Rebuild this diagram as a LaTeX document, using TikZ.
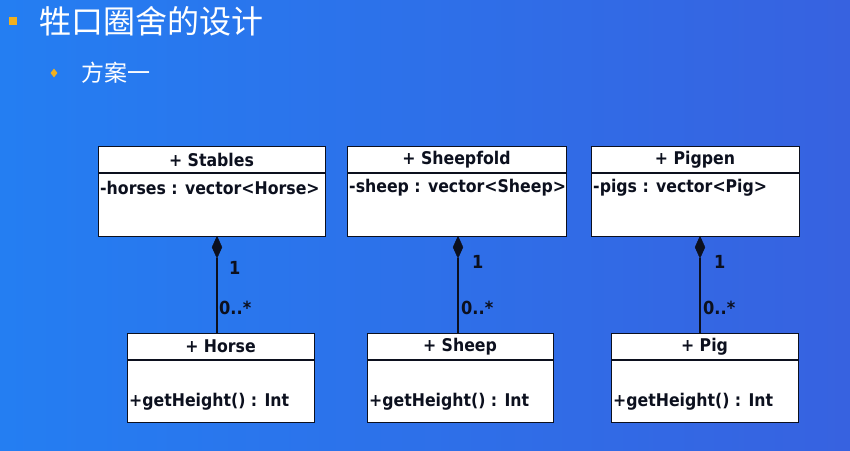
\documentclass[tikz,border=0pt]{standalone}
\usepackage{fontspec}
\setmainfont{DejaVu Sans}
\newfontfamily\umlfont{DejaVu Sans Condensed Bold}
\newfontfamily\cjk{Noto Sans CJK SC}
\usetikzlibrary{shapes.geometric}
\definecolor{bgL}{RGB}{36,126,242}
\definecolor{bgR}{RGB}{55,98,224}
\definecolor{bullet}{RGB}{240,176,32}
\definecolor{ink}{RGB}{12,16,30}
\begin{document}
\begin{tikzpicture}[x=1pt,y=-1pt,
  clsbox/.style={draw=ink,line width=1.3pt,fill=white,rectangle,inner sep=0pt,anchor=north west},
  clsname/.style={font=\umlfont\fontsize{17.5}{19}\selectfont,text=ink,inner sep=0pt},
  member/.style={font=\umlfont\fontsize{17.5}{19}\selectfont,text=ink,inner sep=0pt,anchor=west},
  mult/.style={font=\umlfont\fontsize{18}{20}\selectfont,text=ink,inner sep=0pt,anchor=west},
  comp/.style={diamond,fill=ink,draw=ink,inner sep=0pt,minimum width=10pt,minimum height=22pt,anchor=north},
  link/.style={draw=ink,line width=1.1pt},
  sep/.style={draw=ink,line width=1.2pt}]
\useasboundingbox (0,0) rectangle (850,450);
\shade[left color=bgL,right color=bgR] (0,0) rectangle (850,450);
% titles
\node[fill=bullet,minimum size=8pt,inner sep=0pt] (b1) at (13,21) {};
\node[anchor=west,inner sep=0pt,text=white,font=\cjk\fontsize{32}{35}\selectfont] (t1) at (39,21) {牲口圈舍的设计};
\node[diamond,fill=bullet,minimum width=7pt,minimum height=9pt,inner sep=0pt] (b2) at (54,73) {};
\node[anchor=west,inner sep=0pt,text=white,font=\cjk\fontsize{23}{26}\selectfont] (t2) at (81,73) {方案一};
% upper classes
\node[clsbox,minimum width=227pt,minimum height=90pt] (stables) at (98,146) {};
\node[clsbox,minimum width=219pt,minimum height=90pt] (fold) at (347,146) {};
\node[clsbox,minimum width=208pt,minimum height=90pt] (pen) at (591,146) {};
\draw[sep] (98,173) -- (325,173);
\draw[sep] (347,173) -- (566,173);
\draw[sep] (591,173) -- (799,173);
\node[clsname] (stablesN) at (211.5,159.5) {+ Stables};
\node[clsname] (foldN) at (456.5,159.5) {+ Sheepfold};
\node[clsname] (penN) at (695,159.5) {+ Pigpen};
\node[member] (stablesA) at (100,188) {-horses : vector<Horse>};
\node[member] (foldA) at (349,188) {-sheep : vector<Sheep>};
\node[member] (penA) at (593,188) {-pigs : vector<Pig>};
% lower classes
\node[clsbox,minimum width=187pt,minimum height=89pt] (horse) at (127,333) {};
\node[clsbox,minimum width=186pt,minimum height=89pt] (sheep) at (367,333) {};
\node[clsbox,minimum width=187pt,minimum height=89pt] (pig) at (611,333) {};
\draw[sep] (127,360) -- (314,360);
\draw[sep] (367,360) -- (553,360);
\draw[sep] (611,360) -- (798,360);
\node[clsname] (horseN) at (220.5,346.5) {+ Horse};
\node[clsname] (sheepN) at (460,346.5) {+ Sheep};
\node[clsname] (pigN) at (704.5,346.5) {+ Pig};
\node[member] (horseM) at (129,402) {+getHeight() : Int};
\node[member] (sheepM) at (369,402) {+getHeight() : Int};
\node[member] (pigM) at (613,402) {+getHeight() : Int};
% compositions
\node[comp] (d1) at (217,236) {};
\node[comp] (d2) at (458,236) {};
\node[comp] (d3) at (700,236) {};
\draw[link] (d1.south) -- (d1.south |- horse.north);
\draw[link] (d2.south) -- (d2.south |- sheep.north);
\draw[link] (d3.south) -- (d3.south |- pig.north);
\node[mult] (m1a) at (229,268) {1};
\node[mult] (m1b) at (219,308) {0..*};
\node[mult] (m2a) at (472,262) {1};
\node[mult] (m2b) at (461,308) {0..*};
\node[mult] (m3a) at (714,262) {1};
\node[mult] (m3b) at (703,308) {0..*};
\end{tikzpicture}
\end{document}
